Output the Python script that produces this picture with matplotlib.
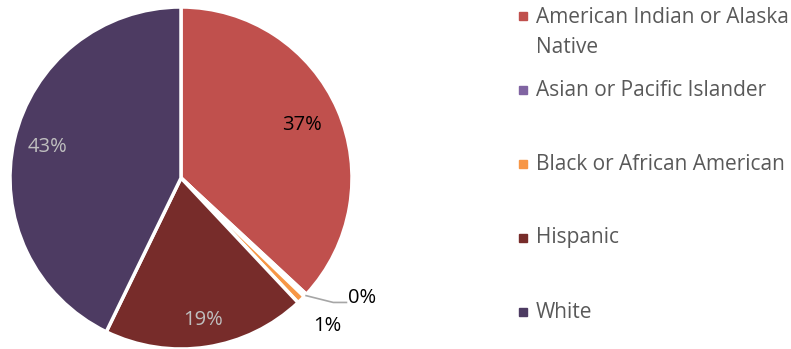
import numpy as np
import matplotlib.pyplot as plt

categories = ["American Indian or Alaska\nNative", "Asian or Pacific Islander",
              "Black or African American", "Hispanic", "White"]
shares = [36.9, 0.3, 0.8, 19.2, 42.8]
labels = ["37%", "0%", "1%", "19%", "43%"]
colors = ["#C0504D", "#8064A2", "#F79646", "#772C2A", "#4D3B62"]

plt.rcParams["font.family"] = ["Open Sans", "DejaVu Sans"]

fig = plt.figure(figsize=(7.91, 3.49), dpi=100)
ax = fig.add_axes([0, 0, 1, 1])

cx, cy, r = 181, 171, 171
wedges, _ = ax.pie(shares, colors=colors, startangle=90, counterclock=False,
                   center=(cx, cy), radius=r, frame=True,
                   wedgeprops=dict(edgecolor="white", linewidth=2.5))
ax.set_xlim(0, 791)
ax.set_ylim(0, 349)
ax.set_aspect("equal")
ax.axis("off")

# label placement per slice: radial distance (fraction of radius) and colour
dist = [0.77, None, 1.22, 0.84, 0.80]
txt_col = ["black", "black", "black", "#BFBFBF", "#BFBFBF"]
for w, lab, d, c in zip(wedges, labels, dist, txt_col):
    mid = np.deg2rad((w.theta1 + w.theta2) / 2)
    if d is None:
        # tiny slice: leader line out to the label
        x0, y0 = cx + r * np.cos(mid), cy + r * np.sin(mid)
        ax.plot([x0, x0 + 28, x0 + 42], [y0, y0 - 7, y0 - 7],
                color="#A6A6A6", lw=1.2, solid_capstyle="butt")
        ax.text(x0 + 43, y0 - 3, lab, fontsize=14.5, color=c, va="center", ha="left")
        continue
    ax.text(cx + d * r * np.cos(mid), cy + d * r * np.sin(mid), lab,
            fontsize=14.5, color=c, ha="center", va="center")

# legend
leg_y = [16, 90, 164, 238, 312]
for name, col, y in zip(categories, colors, leg_y):
    ax.add_patch(plt.Rectangle((519, 349 - y - 4), 8, 8, color=col))
    multi = "\n" in name
    ax.text(536, 349 - y + (9 if multi else 0), name, fontsize=15, color="#595959",
            va="top" if multi else "center", ha="left", linespacing=1.55)

fig.savefig("out.png", dpi=100)
